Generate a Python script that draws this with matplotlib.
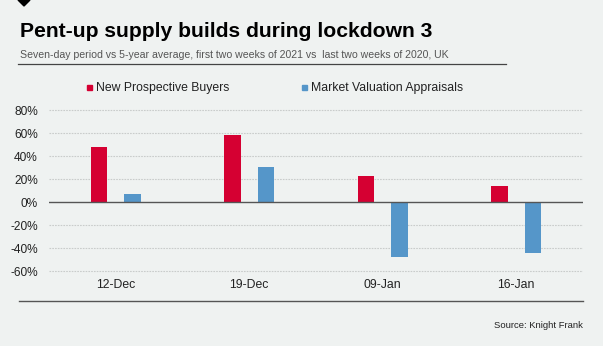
import numpy as np
import matplotlib.pyplot as plt
from matplotlib.lines import Line2D
from matplotlib.patches import Polygon

# === Data ===
weeks = ["12-Dec", "19-Dec", "09-Jan", "16-Jan"]
buyers = [48.3, 58.8, 22.9, 14.2]        # New Prospective Buyers, % vs 5-yr avg
appraisals = [7.2, 31.0, -47.3, -43.8]   # Market Valuation Appraisals, % vs 5-yr avg
yticks = [80, 60, 40, 20, 0, -20, -40, -60]

RED = "#d50032"
BLUE = "#5596c9"
BG = "#eff2f1"

plt.rcParams['font.family'] = ['Liberation Sans', 'DejaVu Sans']

W, H = 603, 346
fig = plt.figure(figsize=(W / 100, H / 100), dpi=100, facecolor=BG)

def px(x0, y0, x1, y1):
    # pixel box (top-left origin) -> figure fraction rect
    return [x0 / W, 1 - y1 / H, (x1 - x0) / W, (y1 - y0) / H]

# === Header ===
fig.add_artist(Polygon([[18 / W, 1], [30 / W, 1], [24 / W, 1 - 6 / H]],
                       closed=True, transform=fig.transFigure, color="black"))
fig.text(20 / W, 1 - 31.5 / H, "Pent-up supply builds during lockdown 3",
         fontsize=15.2, fontweight="bold", va="center", ha="left", color="black")
fig.text(20 / W, 1 - 55.5 / H,
         "Seven-day period vs 5-year average, first two weeks of 2021 vs  last two weeks of 2020, UK",
         fontsize=7.6, va="center", ha="left", color="#555555")
fig.add_artist(Line2D([18 / W, 506 / W], [1 - 63.5 / H] * 2,
                      transform=fig.transFigure, color="#444444", lw=0.9))

# === Legend ===
fig.add_artist(Polygon([[87 / W, 1 - 85 / H], [92 / W, 1 - 85 / H],
                        [92 / W, 1 - 90 / H], [87 / W, 1 - 90 / H]],
                       transform=fig.transFigure, color=RED))
fig.text(96 / W, 1 - 87.5 / H, "New Prospective Buyers", fontsize=8.8,
         va="center", ha="left", color="#222222")
fig.add_artist(Polygon([[301.5 / W, 1 - 85 / H], [306.5 / W, 1 - 85 / H],
                        [306.5 / W, 1 - 90 / H], [301.5 / W, 1 - 90 / H]],
                       transform=fig.transFigure, color=BLUE))
fig.text(311 / W, 1 - 87.5 / H, "Market Valuation Appraisals", fontsize=8.8,
         va="center", ha="left", color="#222222")

# === Bars ===
ymin, ymax = -70, 90
top = 202.3 - ymax * 1.15
bot = 202.3 - ymin * 1.15
ax = fig.add_axes(px(49, top, 583, bot))
ax.set_facecolor(BG)

x = np.arange(len(weeks))
bw = 0.125
ax.bar(x - 0.125, buyers, bw, color=RED, zorder=3)
ax.bar(x + 0.125, appraisals, bw, color=BLUE, zorder=3)

ax.set_xlim(-0.5, len(weeks) - 0.5)
ax.set_ylim(ymin, ymax)
ax.set_yticks(yticks)
ax.set_yticklabels([f"{v}%" for v in yticks])
ax.tick_params(axis="y", length=0, pad=8, labelsize=8.6, labelcolor="#222222")
ax.set_xticks([])
for v in yticks:
    if v == 0:
        ax.axhline(0, color="#555555", lw=1.0, zorder=4)
    else:
        ax.axhline(v, color="#c9cccb", lw=0.8, ls=(0, (1.5, 1)), zorder=1)
for s in ax.spines.values():
    s.set_visible(False)

for i, w in enumerate(weeks):
    ax.text(i, -72, w, ha="center", va="center", fontsize=8.8,
            color="#222222", clip_on=False)

# === Footer ===
fig.add_artist(Line2D([19 / W, 583 / W], [1 - 301 / H] * 2,
                      transform=fig.transFigure, color="#555555", lw=1.0))
fig.text(583 / W, 1 - 325.5 / H, "Source: Knight Frank", fontsize=6.8,
         ha="right", va="center", color="#222222")

fig.savefig("out.png", dpi=100, facecolor=BG)
